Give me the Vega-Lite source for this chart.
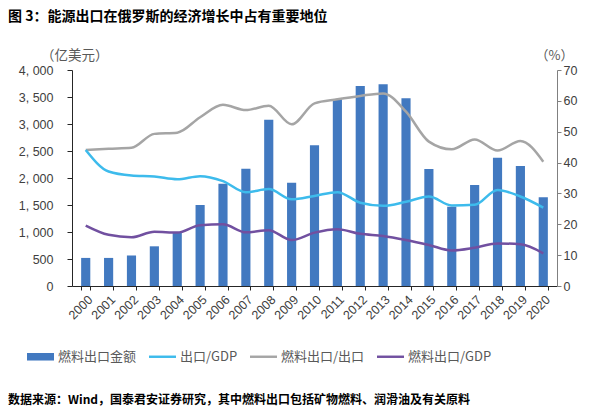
{
  "$schema": "https://vega.github.io/schema/vega-lite/v6.json",
  "background": "white",
  "padding": {"left": 8, "top": 10, "right": 10, "bottom": 8},
  "title": {"text": "图 3：能源出口在俄罗斯的经济增长中占有重要地位", "anchor": "start", "font": "Noto Sans CJK SC", "fontSize": 14, "fontWeight": "bold", "color": "#000000", "offset": 24},
  "data": {"values": [
    {"year": "2000", "fuel": 520, "出口/GDP": 44.1, "燃料出口/出口": 44.1, "燃料出口/GDP": 19.6},
    {"year": "2001", "fuel": 520, "出口/GDP": 37.1, "燃料出口/出口": 44.5, "燃料出口/GDP": 16.6},
    {"year": "2002", "fuel": 565, "出口/GDP": 35.8, "燃料出口/出口": 44.8, "燃料出口/GDP": 15.8},
    {"year": "2003", "fuel": 735, "出口/GDP": 35.5, "燃料出口/出口": 49.3, "燃料出口/GDP": 17.6},
    {"year": "2004", "fuel": 990, "出口/GDP": 34.6, "燃料出口/出口": 49.7, "燃料出口/GDP": 17.3},
    {"year": "2005", "fuel": 1500, "出口/GDP": 35.6, "燃料出口/出口": 54.7, "燃料出口/GDP": 19.7},
    {"year": "2006", "fuel": 1895, "出口/GDP": 34.0, "燃料出口/出口": 58.7, "燃料出口/GDP": 20.0},
    {"year": "2007", "fuel": 2173, "出口/GDP": 30.4, "燃料出口/出口": 57.0, "燃料出口/GDP": 17.4},
    {"year": "2008", "fuel": 3080, "出口/GDP": 31.4, "燃料出口/出口": 58.4, "燃料出口/GDP": 18.1},
    {"year": "2009", "fuel": 1914, "出口/GDP": 28.1, "燃料出口/出口": 52.4, "燃料出口/GDP": 14.9},
    {"year": "2010", "fuel": 2605, "出口/GDP": 29.2, "燃料出口/出口": 59.2, "燃料出口/GDP": 17.3},
    {"year": "2011", "fuel": 3457, "出口/GDP": 30.4, "燃料出口/出口": 60.5, "燃料出口/GDP": 18.4},
    {"year": "2012", "fuel": 3704, "出口/GDP": 27.0, "燃料出口/出口": 61.6, "燃料出口/GDP": 16.9},
    {"year": "2013", "fuel": 3735, "出口/GDP": 26.0, "燃料出口/出口": 62.4, "燃料出口/GDP": 16.2},
    {"year": "2014", "fuel": 3475, "出口/GDP": 27.3, "燃料出口/出口": 56.5, "燃料出口/GDP": 14.9},
    {"year": "2015", "fuel": 2167, "出口/GDP": 29.0, "燃料出口/出口": 46.8, "燃料出口/GDP": 13.3},
    {"year": "2016", "fuel": 1469, "出口/GDP": 26.1, "燃料出口/出口": 44.3, "燃料出口/GDP": 11.5},
    {"year": "2017", "fuel": 1870, "出口/GDP": 26.3, "燃料出口/出口": 47.5, "燃料出口/GDP": 12.4},
    {"year": "2018", "fuel": 2377, "出口/GDP": 31.1, "燃料出口/出口": 43.9, "燃料出口/GDP": 13.8},
    {"year": "2019", "fuel": 2222, "出口/GDP": 29.0, "燃料出口/出口": 47.0, "燃料出口/GDP": 13.5},
    {"year": "2020", "fuel": 1642, "出口/GDP": 25.4, "燃料出口/出口": 40.3, "燃料出口/GDP": 10.6}
  ]},
  "vconcat": [
    {
      "width": 485,
      "height": 216,
      "title": {"text": "数据来源：Wind，国泰君安证券研究，其中燃料出口包括矿物燃料、润滑油及有关原料", "orient": "bottom", "anchor": "start", "frame": "group", "font": "Noto Sans CJK SC", "fontSize": 12, "fontWeight": "bold", "color": "#000000", "offset": 73, "dx": -64},
      "encoding": {
        "x": {"field": "year", "type": "ordinal", "scale": {"paddingInner": 0.6, "paddingOuter": 0.4},
          "axis": {"title": null, "labelAngle": -45, "labelFont": "Liberation Sans", "labelFontSize": 12.5, "labelColor": "#404040", "domainColor": "#262626", "tickColor": "#262626", "tickBand": "extent", "tickSize": 4, "labelPadding": 3}}
      },
      "layer": [
        {
          "mark": {"type": "bar", "color": "#4279c0"},
          "encoding": {
            "y": {"field": "fuel", "type": "quantitative", "scale": {"domain": [0, 4000]},
              "axis": {"title": "（亿美元）", "titleAngle": 0, "titleX": 36, "titleY": -15, "titleAlign": "right", "titleBaseline": "middle", "titleFont": "Noto Sans CJK SC", "titleFontSize": 13.5, "titleFontWeight": "normal", "titleColor": "#595959", "values": [0, 500, 1000, 1500, 2000, 2500, 3000, 3500, 4000], "labelExpr": "replace(format(datum.value, ',.0f'), ',', ', ')", "labelFont": "Liberation Sans", "labelFontSize": 12.5, "labelColor": "#404040", "labelPadding": 14, "tickSize": 5, "domainColor": "#262626", "tickColor": "#262626", "grid": false}},
            "color": {"datum": "燃料出口金额", "type": "nominal",
              "scale": {"domain": ["燃料出口金额", "出口/GDP", "燃料出口/出口", "燃料出口/GDP"], "range": ["#4279c0", "#3dbbec", "#a5a5a5", "#7150a0"]},
              "legend": {"title": null, "orient": "none", "legendX": -45, "legendY": 273, "direction": "horizontal", "columns": 4, "labelFont": "Noto Sans CJK SC", "labelFontSize": 13, "labelColor": "#595959", "symbolSize": 729, "symbolOffset": 0, "labelOffset": 4, "columnPadding": 12,
                "encode": {"symbols": {"update": {"fill": {"scale": "color", "field": "value"}, "stroke": {"value": "transparent"}, "strokeWidth": {"value": 0}, "opacity": {"value": 1}, "shape": {"signal": "datum.value === '燃料出口金额' ? 'M-1,-0.28H1V0.28H-1Z' : 'M-1,-0.09H1V0.09H-1Z'"}}}}}}
          }
        },
        {
          "transform": [{"fold": ["燃料出口/出口", "出口/GDP", "燃料出口/GDP"], "as": ["series", "value"]}],
          "mark": {"type": "line", "interpolate": "monotone", "strokeWidth": 2.5},
          "encoding": {
            "y": {"field": "value", "type": "quantitative", "scale": {"domain": [0, 70]},
              "axis": {"orient": "right", "title": "（%）", "titleAngle": 0, "titleX": -3, "titleY": -15, "titleAlign": "center", "titleBaseline": "middle", "titleFont": "Noto Sans CJK SC", "titleFontSize": 13, "titleFontWeight": "normal", "titleColor": "#595959", "values": [0, 10, 20, 30, 40, 50, 60, 70], "labelFont": "Liberation Sans", "labelFontSize": 12.5, "labelColor": "#404040", "labelPadding": 2, "tickSize": 4, "domainColor": "#808080", "tickColor": "#808080", "grid": false}},
            "color": {"field": "series", "type": "nominal",
              "legend": {"title": null, "orient": "none", "legendX": -45, "legendY": 273, "direction": "horizontal", "columns": 4, "labelFont": "Noto Sans CJK SC", "labelFontSize": 13, "labelColor": "#595959", "symbolSize": 729, "symbolOffset": 0, "labelOffset": 4, "columnPadding": 12,
                "encode": {"symbols": {"update": {"fill": {"scale": "color", "field": "value"}, "stroke": {"value": "transparent"}, "strokeWidth": {"value": 0}, "opacity": {"value": 1}, "shape": {"signal": "datum.value === '燃料出口金额' ? 'M-1,-0.28H1V0.28H-1Z' : 'M-1,-0.09H1V0.09H-1Z'"}}}}}}
          }
        }
      ],
      "resolve": {"scale": {"y": "independent"}}
    }
  ],
  "config": {"view": {"stroke": null}, "concat": {"spacing": 0}}
}
